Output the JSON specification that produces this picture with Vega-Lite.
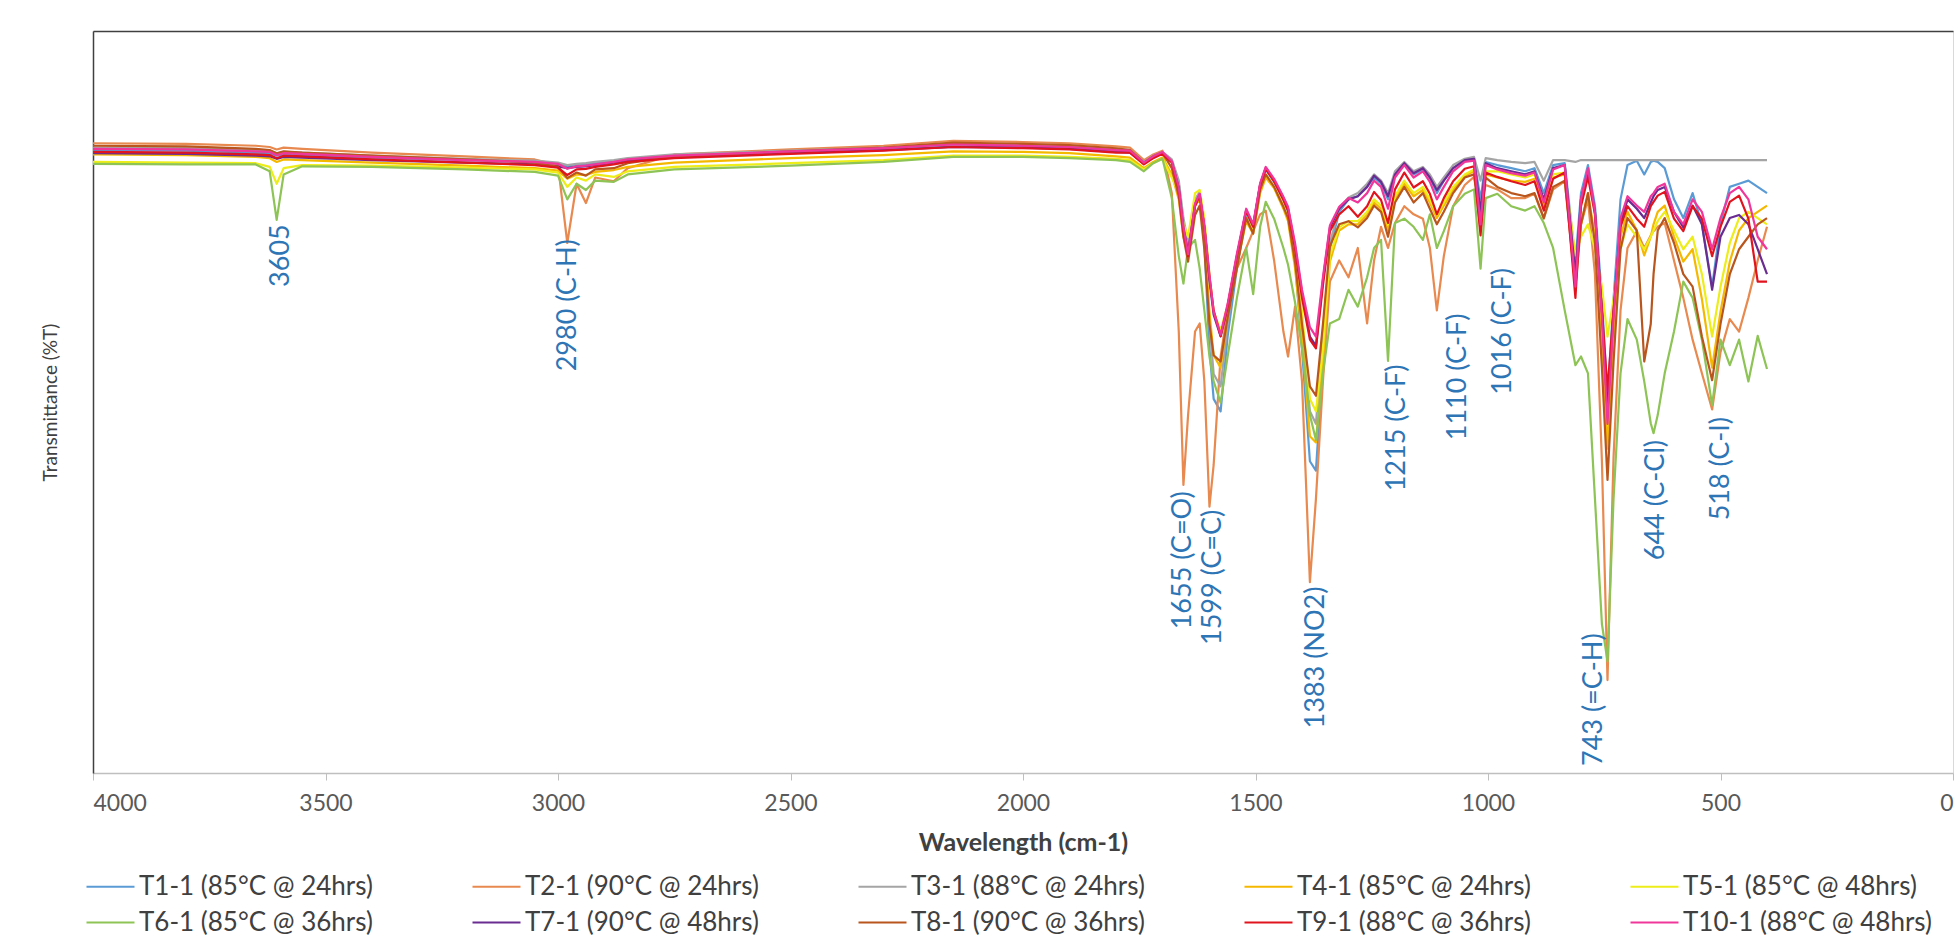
{
  "$schema": "https://vega.github.io/schema/vega-lite/v6.json",
  "width": 1860,
  "height": 742,
  "autosize": {"type": "none"},
  "padding": {"left": 93, "top": 31, "right": 2, "bottom": 168},
  "background": "white",
  "config": {
    "font": "Lato",
    "view": {"stroke": "#D9D9D9"},
    "axis": {"labelFont": "Lato", "titleFont": "Lato"},
    "legend": {"labelFont": "Lato"}
  },
  "datasets": {
    "names": [
      {"k": "T1", "name": "T1-1 (85°C @ 24hrs)"},
      {"k": "T2", "name": "T2-1 (90°C @ 24hrs)"},
      {"k": "T3", "name": "T3-1 (88°C @ 24hrs)"},
      {"k": "T4", "name": "T4-1 (85°C @ 24hrs)"},
      {"k": "T5", "name": "T5-1 (85°C @ 48hrs)"},
      {"k": "T6", "name": "T6-1 (85°C @ 36hrs)"},
      {"k": "T7", "name": "T7-1 (90°C @ 48hrs)"},
      {"k": "T8", "name": "T8-1 (90°C @ 36hrs)"},
      {"k": "T9", "name": "T9-1 (88°C @ 36hrs)"},
      {"k": "T10", "name": "T10-1 (88°C @ 48hrs)"}
    ],
    "labels": [
      {"label": "3605", "wn": 3595, "t": 88.0},
      {"label": "2980 (C-H)", "wn": 2978, "t": 85.6},
      {"label": "1655 (C=O)", "wn": 1655, "t": 45.2},
      {"label": "1599 (C=C)", "wn": 1592, "t": 42.2},
      {"label": "1383 (NO2)", "wn": 1370, "t": 29.9},
      {"label": "1215 (C-F)", "wn": 1195, "t": 65.5},
      {"label": "1110 (C-F)", "wn": 1065, "t": 73.7},
      {"label": "1016 (C-F)", "wn": 967, "t": 81.0},
      {"label": "743 (=C-H)", "wn": 772, "t": 22.4},
      {"label": "644 (C-Cl)", "wn": 639, "t": 53.4},
      {"label": "518 (C-I)", "wn": 499, "t": 57.1}
    ],
    "spectra": [
      {"wn": 4000, "T1": 99.9, "T2": 101.0, "T3": 100.3, "T4": 99.2, "T5": 98.0, "T6": 97.7, "T7": 99.4, "T8": 100.6, "T9": 99.6, "T10": 100.1},
      {"wn": 3800, "T1": 99.8, "T2": 100.9, "T3": 100.2, "T4": 99.1, "T5": 97.9, "T6": 97.6, "T7": 99.3, "T8": 100.5, "T9": 99.5, "T10": 100.0},
      {"wn": 3650, "T1": 99.5, "T2": 100.6, "T3": 99.9, "T4": 98.8, "T5": 97.8, "T6": 97.6, "T7": 99.0, "T8": 100.1, "T9": 99.2, "T10": 99.7},
      {"wn": 3620, "T1": 99.4, "T2": 100.4, "T3": 99.8, "T4": 98.6, "T5": 97.2, "T6": 96.5, "T7": 98.9, "T8": 99.9, "T9": 99.1, "T10": 99.6},
      {"wn": 3605, "T1": 99.0, "T2": 100.0, "T3": 99.4, "T4": 98.0, "T5": 94.5, "T6": 88.7, "T7": 98.5, "T8": 99.4, "T9": 98.6, "T10": 99.1},
      {"wn": 3590, "T1": 99.2, "T2": 100.3, "T3": 99.6, "T4": 98.4, "T5": 97.0, "T6": 96.0, "T7": 98.8, "T8": 99.7, "T9": 99.0, "T10": 99.4},
      {"wn": 3550, "T1": 99.1, "T2": 100.1, "T3": 99.5, "T4": 98.3, "T5": 97.5, "T6": 97.3, "T7": 98.7, "T8": 99.5, "T9": 98.9, "T10": 99.3},
      {"wn": 3400, "T1": 98.7, "T2": 99.5, "T3": 99.0, "T4": 97.9, "T5": 97.4, "T6": 97.2, "T7": 98.3, "T8": 99.0, "T9": 98.4, "T10": 98.8},
      {"wn": 3200, "T1": 98.3, "T2": 98.9, "T3": 98.5, "T4": 97.4, "T5": 97.1, "T6": 96.8, "T7": 97.9, "T8": 98.4, "T9": 97.9, "T10": 98.3},
      {"wn": 3050, "T1": 98.0, "T2": 98.4, "T3": 98.2, "T4": 97.0, "T5": 96.8, "T6": 96.4, "T7": 97.6, "T8": 97.9, "T9": 97.5, "T10": 98.0},
      {"wn": 3000, "T1": 97.7, "T2": 97.5, "T3": 97.9, "T4": 96.6, "T5": 96.3, "T6": 95.8, "T7": 97.3, "T8": 97.2, "T9": 97.1, "T10": 97.7},
      {"wn": 2980, "T1": 97.3, "T2": 85.0, "T3": 97.5, "T4": 95.3, "T5": 94.0, "T6": 92.0, "T7": 97.0, "T8": 95.4, "T9": 95.9, "T10": 96.9},
      {"wn": 2960, "T1": 97.5, "T2": 94.5, "T3": 97.7, "T4": 96.0, "T5": 95.5, "T6": 94.5, "T7": 97.2, "T8": 96.3, "T9": 96.8, "T10": 97.3},
      {"wn": 2940, "T1": 97.6, "T2": 91.4, "T3": 97.8, "T4": 95.9, "T5": 95.0, "T6": 93.5, "T7": 97.3, "T8": 95.8, "T9": 96.9, "T10": 97.4},
      {"wn": 2920, "T1": 97.8, "T2": 95.5, "T3": 98.0, "T4": 96.4, "T5": 96.0, "T6": 95.0, "T7": 97.5, "T8": 96.8, "T9": 97.2, "T10": 97.6},
      {"wn": 2880, "T1": 98.1, "T2": 94.9, "T3": 98.3, "T4": 96.7, "T5": 95.6, "T6": 94.8, "T7": 97.9, "T8": 97.0, "T9": 97.6, "T10": 98.0},
      {"wn": 2850, "T1": 98.4, "T2": 97.0, "T3": 98.6, "T4": 97.2, "T5": 96.5, "T6": 96.0, "T7": 98.2, "T8": 97.8, "T9": 98.0, "T10": 98.4},
      {"wn": 2750, "T1": 99.0, "T2": 99.2, "T3": 99.2, "T4": 97.9, "T5": 97.2, "T6": 96.8, "T7": 98.8, "T8": 98.9, "T9": 98.6, "T10": 99.0},
      {"wn": 2500, "T1": 99.6, "T2": 100.0, "T3": 99.8, "T4": 98.6, "T5": 97.8, "T6": 97.4, "T7": 99.4, "T8": 99.7, "T9": 99.3, "T10": 99.7},
      {"wn": 2300, "T1": 100.1, "T2": 100.6, "T3": 100.3, "T4": 99.1, "T5": 98.3, "T6": 98.0, "T7": 99.9, "T8": 100.3, "T9": 99.8, "T10": 100.2},
      {"wn": 2150, "T1": 100.6, "T2": 101.4, "T3": 100.8, "T4": 99.7, "T5": 99.0, "T6": 98.8, "T7": 100.4, "T8": 101.1, "T9": 100.4, "T10": 100.8},
      {"wn": 2000, "T1": 100.5, "T2": 101.2, "T3": 100.7, "T4": 99.6, "T5": 99.0, "T6": 98.8, "T7": 100.3, "T8": 100.9, "T9": 100.2, "T10": 100.6},
      {"wn": 1900, "T1": 100.3, "T2": 101.0, "T3": 100.5, "T4": 99.4, "T5": 98.8, "T6": 98.6, "T7": 100.1, "T8": 100.7, "T9": 100.0, "T10": 100.4},
      {"wn": 1800, "T1": 99.8, "T2": 100.5, "T3": 100.0, "T4": 98.9, "T5": 98.5, "T6": 98.3, "T7": 99.6, "T8": 100.2, "T9": 99.5, "T10": 99.9},
      {"wn": 1770, "T1": 99.7, "T2": 100.3, "T3": 99.9, "T4": 98.7, "T5": 98.3, "T6": 98.0, "T7": 99.5, "T8": 99.9, "T9": 99.5, "T10": 99.8},
      {"wn": 1740, "T1": 97.8, "T2": 98.3, "T3": 98.0, "T4": 97.0, "T5": 96.8, "T6": 96.5, "T7": 97.7, "T8": 97.9, "T9": 97.6, "T10": 97.9},
      {"wn": 1720, "T1": 98.8, "T2": 99.2, "T3": 99.0, "T4": 98.0, "T5": 97.8, "T6": 97.8, "T7": 98.7, "T8": 98.9, "T9": 98.6, "T10": 98.9},
      {"wn": 1700, "T1": 99.5, "T2": 99.8, "T3": 99.6, "T4": 98.7, "T5": 98.5, "T6": 98.5, "T7": 99.4, "T8": 99.5, "T9": 99.3, "T10": 99.6},
      {"wn": 1680, "T1": 98.2, "T2": 93.0, "T3": 98.4, "T4": 96.0, "T5": 95.5, "T6": 92.2, "T7": 98.0, "T8": 97.0, "T9": 97.9, "T10": 98.1},
      {"wn": 1665, "T1": 94.5, "T2": 70.8, "T3": 95.0, "T4": 92.0, "T5": 93.0, "T6": 82.9, "T7": 93.8, "T8": 92.5, "T9": 93.6, "T10": 93.9},
      {"wn": 1655, "T1": 88.0, "T2": 46.2, "T3": 89.0, "T4": 86.0, "T5": 88.0, "T6": 78.5, "T7": 87.5, "T8": 86.0, "T9": 86.9, "T10": 87.5},
      {"wn": 1645, "T1": 84.0, "T2": 57.4, "T3": 85.0, "T4": 83.0, "T5": 86.0, "T6": 84.2, "T7": 83.5, "T8": 82.0, "T9": 82.9, "T10": 83.2},
      {"wn": 1630, "T1": 91.5, "T2": 70.8, "T3": 92.0, "T4": 91.0, "T5": 93.0, "T6": 85.5, "T7": 91.2, "T8": 89.5, "T9": 90.9, "T10": 91.3},
      {"wn": 1620, "T1": 92.8, "T2": 72.1, "T3": 93.2, "T4": 92.0, "T5": 93.5, "T6": 80.9, "T7": 92.8, "T8": 91.0, "T9": 92.6, "T10": 92.9},
      {"wn": 1610, "T1": 85.0, "T2": 62.8, "T3": 87.0, "T4": 86.0, "T5": 89.0, "T6": 74.2, "T7": 87.5, "T8": 84.0, "T9": 87.6, "T10": 87.8},
      {"wn": 1599, "T1": 68.0, "T2": 42.7, "T3": 72.0, "T4": 74.0, "T5": 80.0, "T6": 66.8, "T7": 79.0, "T8": 72.0, "T9": 79.5, "T10": 79.8},
      {"wn": 1590, "T1": 60.0, "T2": 49.4, "T3": 64.0, "T4": 67.0, "T5": 74.0, "T6": 62.8, "T7": 73.5, "T8": 67.0, "T9": 74.2, "T10": 74.0},
      {"wn": 1575, "T1": 58.0, "T2": 66.8, "T3": 62.0, "T4": 65.0, "T5": 71.0, "T6": 59.4, "T7": 70.0, "T8": 66.0, "T9": 70.1, "T10": 70.3},
      {"wn": 1560, "T1": 70.0, "T2": 74.2, "T3": 72.0, "T4": 73.0, "T5": 75.0, "T6": 66.8, "T7": 74.8, "T8": 73.0, "T9": 74.8, "T10": 75.2},
      {"wn": 1540, "T1": 81.0, "T2": 80.9, "T3": 82.0, "T4": 81.5, "T5": 82.5, "T6": 76.2, "T7": 82.9, "T8": 81.0, "T9": 82.9, "T10": 83.3},
      {"wn": 1520, "T1": 89.5, "T2": 84.2, "T3": 90.0, "T4": 88.5, "T5": 89.0, "T6": 84.2, "T7": 90.3, "T8": 89.0, "T9": 90.2, "T10": 90.5},
      {"wn": 1505, "T1": 87.0, "T2": 86.9, "T3": 87.5, "T4": 86.5, "T5": 87.0, "T6": 76.8, "T7": 87.8, "T8": 86.5, "T9": 87.6, "T10": 88.0},
      {"wn": 1490, "T1": 94.0, "T2": 89.6, "T3": 94.3, "T4": 93.0, "T5": 93.5, "T6": 87.6, "T7": 94.4, "T8": 93.5, "T9": 94.3, "T10": 94.6},
      {"wn": 1478, "T1": 96.8, "T2": 90.2, "T3": 97.0, "T4": 95.5, "T5": 96.0, "T6": 91.6, "T7": 97.0, "T8": 96.0, "T9": 96.9, "T10": 97.2},
      {"wn": 1460, "T1": 94.8, "T2": 82.2, "T3": 95.0, "T4": 93.8, "T5": 94.0, "T6": 88.9, "T7": 95.0, "T8": 94.0, "T9": 94.9, "T10": 95.3},
      {"wn": 1440, "T1": 92.0, "T2": 70.8, "T3": 92.3, "T4": 90.5, "T5": 91.0, "T6": 84.2, "T7": 92.2, "T8": 90.8, "T9": 91.9, "T10": 92.4},
      {"wn": 1430, "T1": 90.0, "T2": 66.8, "T3": 90.5, "T4": 88.5, "T5": 89.0, "T6": 81.5, "T7": 90.5, "T8": 89.0, "T9": 90.2, "T10": 90.8},
      {"wn": 1415, "T1": 82.0, "T2": 74.8, "T3": 84.0, "T4": 81.0, "T5": 83.0, "T6": 75.5, "T7": 84.5, "T8": 82.0, "T9": 84.2, "T10": 85.0},
      {"wn": 1400, "T1": 68.0, "T2": 62.8, "T3": 72.0, "T4": 70.0, "T5": 74.0, "T6": 68.1, "T7": 77.0, "T8": 72.0, "T9": 76.2, "T10": 77.5},
      {"wn": 1383, "T1": 50.0, "T2": 30.6, "T3": 58.0, "T4": 54.0, "T5": 60.0, "T6": 57.4, "T7": 70.0, "T8": 62.0, "T9": 69.5, "T10": 71.5},
      {"wn": 1370, "T1": 48.5, "T2": 44.0, "T3": 56.0, "T4": 53.0, "T5": 58.0, "T6": 53.4, "T7": 68.5, "T8": 60.5, "T9": 68.1, "T10": 70.0},
      {"wn": 1355, "T1": 66.0, "T2": 62.8, "T3": 70.0, "T4": 66.0, "T5": 68.0, "T6": 64.1, "T7": 79.0, "T8": 72.0, "T9": 78.2, "T10": 79.5},
      {"wn": 1340, "T1": 84.0, "T2": 78.8, "T3": 85.0, "T4": 82.0, "T5": 83.0, "T6": 72.1, "T7": 87.5, "T8": 84.5, "T9": 86.9, "T10": 87.8},
      {"wn": 1320, "T1": 90.0, "T2": 82.2, "T3": 90.5, "T4": 87.0, "T5": 87.5, "T6": 72.8, "T7": 90.5, "T8": 88.0, "T9": 89.6, "T10": 90.8},
      {"wn": 1300, "T1": 92.0, "T2": 79.5, "T3": 92.3, "T4": 88.0, "T5": 88.5, "T6": 77.5, "T7": 92.0, "T8": 88.5, "T9": 90.9, "T10": 92.2},
      {"wn": 1280, "T1": 92.5, "T2": 84.2, "T3": 93.0, "T4": 88.0, "T5": 88.5, "T6": 74.8, "T7": 92.5, "T8": 87.5, "T9": 89.2, "T10": 91.5},
      {"wn": 1260, "T1": 94.0, "T2": 72.1, "T3": 94.5, "T4": 89.5, "T5": 90.0, "T6": 79.5, "T7": 94.0, "T8": 89.0, "T9": 90.9, "T10": 93.0},
      {"wn": 1245, "T1": 95.5, "T2": 82.2, "T3": 96.0, "T4": 91.5, "T5": 92.0, "T6": 84.2, "T7": 95.8, "T8": 91.0, "T9": 93.2, "T10": 95.0},
      {"wn": 1230, "T1": 94.5, "T2": 87.6, "T3": 95.0, "T4": 90.5, "T5": 91.0, "T6": 85.5, "T7": 94.8, "T8": 90.0, "T9": 91.9, "T10": 94.0},
      {"wn": 1215, "T1": 92.0, "T2": 84.2, "T3": 93.0, "T4": 87.0, "T5": 88.0, "T6": 66.1, "T7": 92.5, "T8": 86.0, "T9": 88.2, "T10": 90.5},
      {"wn": 1200, "T1": 96.0, "T2": 88.2, "T3": 96.5, "T4": 92.0, "T5": 92.5, "T6": 88.2, "T7": 96.0, "T8": 91.5, "T9": 93.6, "T10": 95.5},
      {"wn": 1180, "T1": 97.8, "T2": 90.9, "T3": 98.0, "T4": 94.5, "T5": 95.0, "T6": 88.9, "T7": 97.8, "T8": 94.0, "T9": 96.3, "T10": 97.5},
      {"wn": 1160, "T1": 96.0, "T2": 89.6, "T3": 96.5, "T4": 92.5, "T5": 93.0, "T6": 87.6, "T7": 96.2, "T8": 91.5, "T9": 93.9, "T10": 95.5},
      {"wn": 1140, "T1": 96.8, "T2": 88.9, "T3": 97.2, "T4": 93.5, "T5": 94.0, "T6": 85.5, "T7": 97.0, "T8": 93.0, "T9": 94.9, "T10": 96.5},
      {"wn": 1125, "T1": 95.5, "T2": 84.2, "T3": 96.0, "T4": 91.5, "T5": 92.0, "T6": 89.6, "T7": 95.5, "T8": 90.5, "T9": 92.9, "T10": 94.8},
      {"wn": 1110, "T1": 93.0, "T2": 74.2, "T3": 94.0, "T4": 89.0, "T5": 89.5, "T6": 84.2, "T7": 93.5, "T8": 88.0, "T9": 89.6, "T10": 92.0},
      {"wn": 1095, "T1": 95.0, "T2": 82.9, "T3": 95.5, "T4": 91.0, "T5": 91.5, "T6": 86.9, "T7": 95.0, "T8": 90.0, "T9": 92.2, "T10": 94.0},
      {"wn": 1075, "T1": 97.0, "T2": 90.9, "T3": 97.5, "T4": 93.5, "T5": 94.0, "T6": 90.9, "T7": 97.0, "T8": 93.0, "T9": 94.9, "T10": 96.5},
      {"wn": 1050, "T1": 98.2, "T2": 94.3, "T3": 98.5, "T4": 95.8, "T5": 96.0, "T6": 92.9, "T7": 98.3, "T8": 95.5, "T9": 96.9, "T10": 98.0},
      {"wn": 1030, "T1": 98.5, "T2": 95.6, "T3": 98.8, "T4": 96.5, "T5": 96.8, "T6": 93.6, "T7": 98.5, "T8": 96.0, "T9": 97.3, "T10": 98.2},
      {"wn": 1016, "T1": 92.0, "T2": 90.9, "T3": 95.0, "T4": 89.0, "T5": 90.0, "T6": 80.9, "T7": 90.0, "T8": 87.0, "T9": 86.2, "T10": 88.0},
      {"wn": 1005, "T1": 98.0, "T2": 94.3, "T3": 98.6, "T4": 96.0, "T5": 96.5, "T6": 92.2, "T7": 97.8, "T8": 95.5, "T9": 96.3, "T10": 97.5},
      {"wn": 980, "T1": 97.5, "T2": 93.6, "T3": 98.3, "T4": 95.5, "T5": 96.5, "T6": 92.9, "T7": 97.0, "T8": 94.0, "T9": 95.6, "T10": 96.8},
      {"wn": 950, "T1": 97.0, "T2": 92.2, "T3": 98.0, "T4": 95.0, "T5": 96.0, "T6": 90.9, "T7": 96.5, "T8": 93.0, "T9": 94.9, "T10": 96.2},
      {"wn": 920, "T1": 96.5, "T2": 92.2, "T3": 97.8, "T4": 94.8, "T5": 95.5, "T6": 90.2, "T7": 96.0, "T8": 92.5, "T9": 94.3, "T10": 95.8},
      {"wn": 900, "T1": 97.0, "T2": 92.9, "T3": 98.0, "T4": 95.3, "T5": 96.0, "T6": 90.9, "T7": 96.5, "T8": 93.0, "T9": 94.9, "T10": 96.3},
      {"wn": 880, "T1": 93.0, "T2": 88.9, "T3": 95.0, "T4": 91.0, "T5": 92.0, "T6": 88.2, "T7": 92.0, "T8": 89.0, "T9": 90.2, "T10": 91.5},
      {"wn": 860, "T1": 97.5, "T2": 93.6, "T3": 98.3, "T4": 95.5, "T5": 96.0, "T6": 84.2, "T7": 97.0, "T8": 94.0, "T9": 95.3, "T10": 96.8},
      {"wn": 835, "T1": 97.8, "T2": 94.9, "T3": 98.3, "T4": 96.0, "T5": 96.3, "T6": 74.2, "T7": 97.5, "T8": 95.0, "T9": 96.3, "T10": 97.5},
      {"wn": 812, "T1": 82.0, "T2": 80.0, "T3": 98.0, "T4": 80.0, "T5": 83.0, "T6": 65.4, "T7": 80.0, "T8": 78.0, "T9": 76.2, "T10": 78.0},
      {"wn": 800, "T1": 93.0, "T2": 88.0, "T3": 98.3, "T4": 88.0, "T5": 86.0, "T6": 66.8, "T7": 92.0, "T8": 88.0, "T9": 90.9, "T10": 92.0},
      {"wn": 785, "T1": 97.5, "T2": 92.0, "T3": 98.3, "T4": 93.0, "T5": 88.0, "T6": 64.1, "T7": 96.5, "T8": 93.0, "T9": 95.6, "T10": 97.0},
      {"wn": 770, "T1": 91.0, "T2": 80.0, "T3": 98.3, "T4": 86.0, "T5": 84.0, "T6": 44.0, "T7": 90.0, "T8": 85.0, "T9": 89.6, "T10": 90.0},
      {"wn": 755, "T1": 76.0, "T2": 50.0, "T3": 98.3, "T4": 70.0, "T5": 78.0, "T6": 23.9, "T7": 74.0, "T8": 65.0, "T9": 74.2, "T10": 73.0},
      {"wn": 743, "T1": 60.0, "T2": 14.9, "T3": 98.3, "T4": 52.0, "T5": 70.0, "T6": 17.9, "T7": 58.0, "T8": 47.0, "T9": 61.4, "T10": 56.0},
      {"wn": 730, "T1": 76.0, "T2": 50.7, "T3": 98.3, "T4": 70.0, "T5": 76.0, "T6": 44.0, "T7": 74.0, "T8": 66.0, "T9": 74.2, "T10": 73.0},
      {"wn": 715, "T1": 92.0, "T2": 74.2, "T3": 98.3, "T4": 86.0, "T5": 84.0, "T6": 64.1, "T7": 88.0, "T8": 84.0, "T9": 87.6, "T10": 89.0},
      {"wn": 700, "T1": 97.5, "T2": 84.2, "T3": 98.3, "T4": 90.0, "T5": 88.0, "T6": 72.8, "T7": 92.0, "T8": 89.0, "T9": 90.9, "T10": 92.5},
      {"wn": 680, "T1": 98.2, "T2": 86.9, "T3": 98.3, "T4": 87.0, "T5": 86.0, "T6": 69.5, "T7": 90.5, "T8": 87.0, "T9": 88.9, "T10": 91.0},
      {"wn": 664, "T1": 96.0, "T2": 84.2, "T3": 98.3, "T4": 83.0, "T5": 84.0, "T6": 62.8, "T7": 89.0, "T8": 66.0, "T9": 87.6, "T10": 90.0},
      {"wn": 650, "T1": 98.0, "T2": 86.2, "T3": 98.3, "T4": 86.0, "T5": 86.0, "T6": 56.1, "T7": 91.5, "T8": 72.0, "T9": 90.9, "T10": 92.5},
      {"wn": 644, "T1": 98.2, "T2": 86.9, "T3": 98.3, "T4": 88.0, "T5": 87.0, "T6": 54.5, "T7": 92.5, "T8": 80.0, "T9": 91.6, "T10": 93.0},
      {"wn": 635, "T1": 98.0, "T2": 87.6, "T3": 98.3, "T4": 90.0, "T5": 88.5, "T6": 57.4, "T7": 93.5, "T8": 87.0, "T9": 92.6, "T10": 94.0},
      {"wn": 620, "T1": 97.0, "T2": 88.2, "T3": 98.3, "T4": 91.0, "T5": 90.0, "T6": 64.1, "T7": 94.0, "T8": 89.0, "T9": 93.2, "T10": 94.5},
      {"wn": 600, "T1": 92.0, "T2": 82.2, "T3": 98.3, "T4": 86.0, "T5": 87.0, "T6": 70.8, "T7": 90.0, "T8": 85.0, "T9": 88.9, "T10": 90.0},
      {"wn": 580, "T1": 89.0, "T2": 76.2, "T3": 98.3, "T4": 82.0, "T5": 84.0, "T6": 78.8, "T7": 87.5, "T8": 80.0, "T9": 86.9, "T10": 88.0},
      {"wn": 560, "T1": 93.0, "T2": 69.5, "T3": 98.3, "T4": 84.0, "T5": 86.0, "T6": 76.2, "T7": 91.0, "T8": 78.0, "T9": 90.9, "T10": 92.0},
      {"wn": 540, "T1": 88.0, "T2": 64.1, "T3": 98.3, "T4": 76.0, "T5": 80.0, "T6": 69.5, "T7": 88.0, "T8": 70.0, "T9": 88.9, "T10": 90.0},
      {"wn": 518, "T1": 78.0, "T2": 58.3, "T3": 98.3, "T4": 65.0, "T5": 70.0, "T6": 59.0, "T7": 77.5, "T8": 63.0, "T9": 82.9, "T10": 84.0},
      {"wn": 500, "T1": 88.0, "T2": 67.5, "T3": 98.3, "T4": 74.0, "T5": 78.0, "T6": 69.5, "T7": 86.0, "T8": 72.0, "T9": 87.6, "T10": 89.0},
      {"wn": 480, "T1": 94.0, "T2": 72.8, "T3": 98.3, "T4": 82.0, "T5": 85.0, "T6": 65.4, "T7": 89.0, "T8": 80.0, "T9": 91.6, "T10": 93.0},
      {"wn": 460, "T1": 94.5, "T2": 70.8, "T3": 98.3, "T4": 87.0, "T5": 89.0, "T6": 69.5, "T7": 89.5, "T8": 84.0, "T9": 92.6, "T10": 94.0},
      {"wn": 440, "T1": 95.0, "T2": 76.2, "T3": 98.3, "T4": 89.0, "T5": 90.0, "T6": 62.8, "T7": 88.0, "T8": 86.0, "T9": 88.9, "T10": 92.0},
      {"wn": 420, "T1": 94.0, "T2": 82.2, "T3": 98.3, "T4": 90.0, "T5": 89.0, "T6": 70.1, "T7": 84.0, "T8": 88.0, "T9": 78.8, "T10": 86.0},
      {"wn": 400, "T1": 93.0, "T2": 87.6, "T3": 98.3, "T4": 91.0, "T5": 88.0, "T6": 64.8, "T7": 80.0, "T8": 89.0, "T9": 78.8, "T10": 84.0}
    ]
  },
  "layer": [
    {
      "data": {"name": "spectra"},
      "transform": [
        {"fold": ["T1", "T2", "T3", "T4", "T5", "T6", "T7", "T8", "T9", "T10"], "as": ["k", "t"]},
        {"lookup": "k", "from": {"data": {"name": "names"}, "key": "k", "fields": ["name"]}}
      ],
      "mark": {"type": "line", "interpolate": "linear", "strokeJoin": "round"},
      "encoding": {
        "x": {
          "field": "wn", "type": "quantitative",
          "scale": {"domain": [4000, 0], "nice": false, "zero": false},
          "axis": {
            "orient": "bottom", "values": [4000, 3500, 3000, 2500, 2000, 1500, 1000, 500, 0], "format": "d",
            "grid": false, "domainColor": "#BFBFBF", "domainWidth": 1.5,
            "tickColor": "#BFBFBF", "tickSize": 7, "labelFontSize": 23, "labelColor": "#595959",
            "labelPadding": 12, "title": "Wavelength (cm-1)", "titleFontSize": 25,
            "titleFontWeight": "bold", "titleColor": "#404040", "titlePadding": 15
          }
        },
        "y": {
          "field": "t", "type": "quantitative",
          "scale": {"domain": [0, 119], "nice": false, "zero": false},
          "axis": {
            "title": "Transmittance (%T)", "labels": false, "ticks": false, "grid": false,
            "domainColor": "#404040", "domainWidth": 1.5, "titleFontSize": 19,
            "titleFontWeight": "normal", "titleColor": "#404040", "titlePadding": 33
          }
        },
        "color": {
          "field": "name", "type": "nominal",
          "scale": {
            "domain": ["T1-1 (85°C @ 24hrs)", "T2-1 (90°C @ 24hrs)", "T3-1 (88°C @ 24hrs)", "T4-1 (85°C @ 24hrs)", "T5-1 (85°C @ 48hrs)", "T6-1 (85°C @ 36hrs)", "T7-1 (90°C @ 48hrs)", "T8-1 (90°C @ 36hrs)", "T9-1 (88°C @ 36hrs)", "T10-1 (88°C @ 48hrs)"],
            "range": ["#5B9BD5", "#E8894F", "#A5A5A5", "#F5B800", "#EDED1A", "#8DC455", "#6A2C91", "#B8561E", "#E0141E", "#F0369A"]
          },
          "legend": {
            "orient": "none", "legendX": 4, "legendY": 842, "direction": "horizontal",
            "columns": 5, "columnPadding": 95, "rowPadding": 9, "title": null,
            "symbolType": "M-2,0L2,0", "symbolSize": 576, "symbolStrokeWidth": 2.5,
            "labelFontSize": 26, "labelColor": "#404040", "labelOffset": 15, "labelLimit": 500
          }
        },
        "strokeWidth": {
          "field": "name", "type": "nominal",
          "scale": {
            "domain": ["T1-1 (85°C @ 24hrs)", "T2-1 (90°C @ 24hrs)", "T3-1 (88°C @ 24hrs)", "T4-1 (85°C @ 24hrs)", "T5-1 (85°C @ 48hrs)", "T6-1 (85°C @ 36hrs)", "T7-1 (90°C @ 48hrs)", "T8-1 (90°C @ 36hrs)", "T9-1 (88°C @ 36hrs)", "T10-1 (88°C @ 48hrs)"],
            "range": [2.2, 2.2, 2.0, 2.6, 2.6, 2.2, 2.2, 2.6, 3.6, 3.0]
          },
          "legend": null
        }
      }
    },
    {
      "data": {"name": "labels"},
      "mark": {"type": "text", "angle": 270, "align": "right", "baseline": "middle", "fontSize": 27, "font": "Lato", "color": "#2E75B6"},
      "encoding": {
        "x": {
          "field": "wn", "type": "quantitative",
          "axis": {"orient": "top", "labels": false, "ticks": false, "grid": false, "title": null, "domainColor": "#404040", "domainWidth": 1.5}
        },
        "y": {
          "field": "t", "type": "quantitative",
          "axis": {
            "title": "Transmittance (%T)", "labels": false, "ticks": false, "grid": false,
            "domainColor": "#404040", "domainWidth": 1.5, "titleFontSize": 19,
            "titleFontWeight": "normal", "titleColor": "#404040", "titlePadding": 33
          }
        },
        "text": {"field": "label"}
      }
    }
  ],
  "resolve": {"axis": {"x": "independent"}}
}
